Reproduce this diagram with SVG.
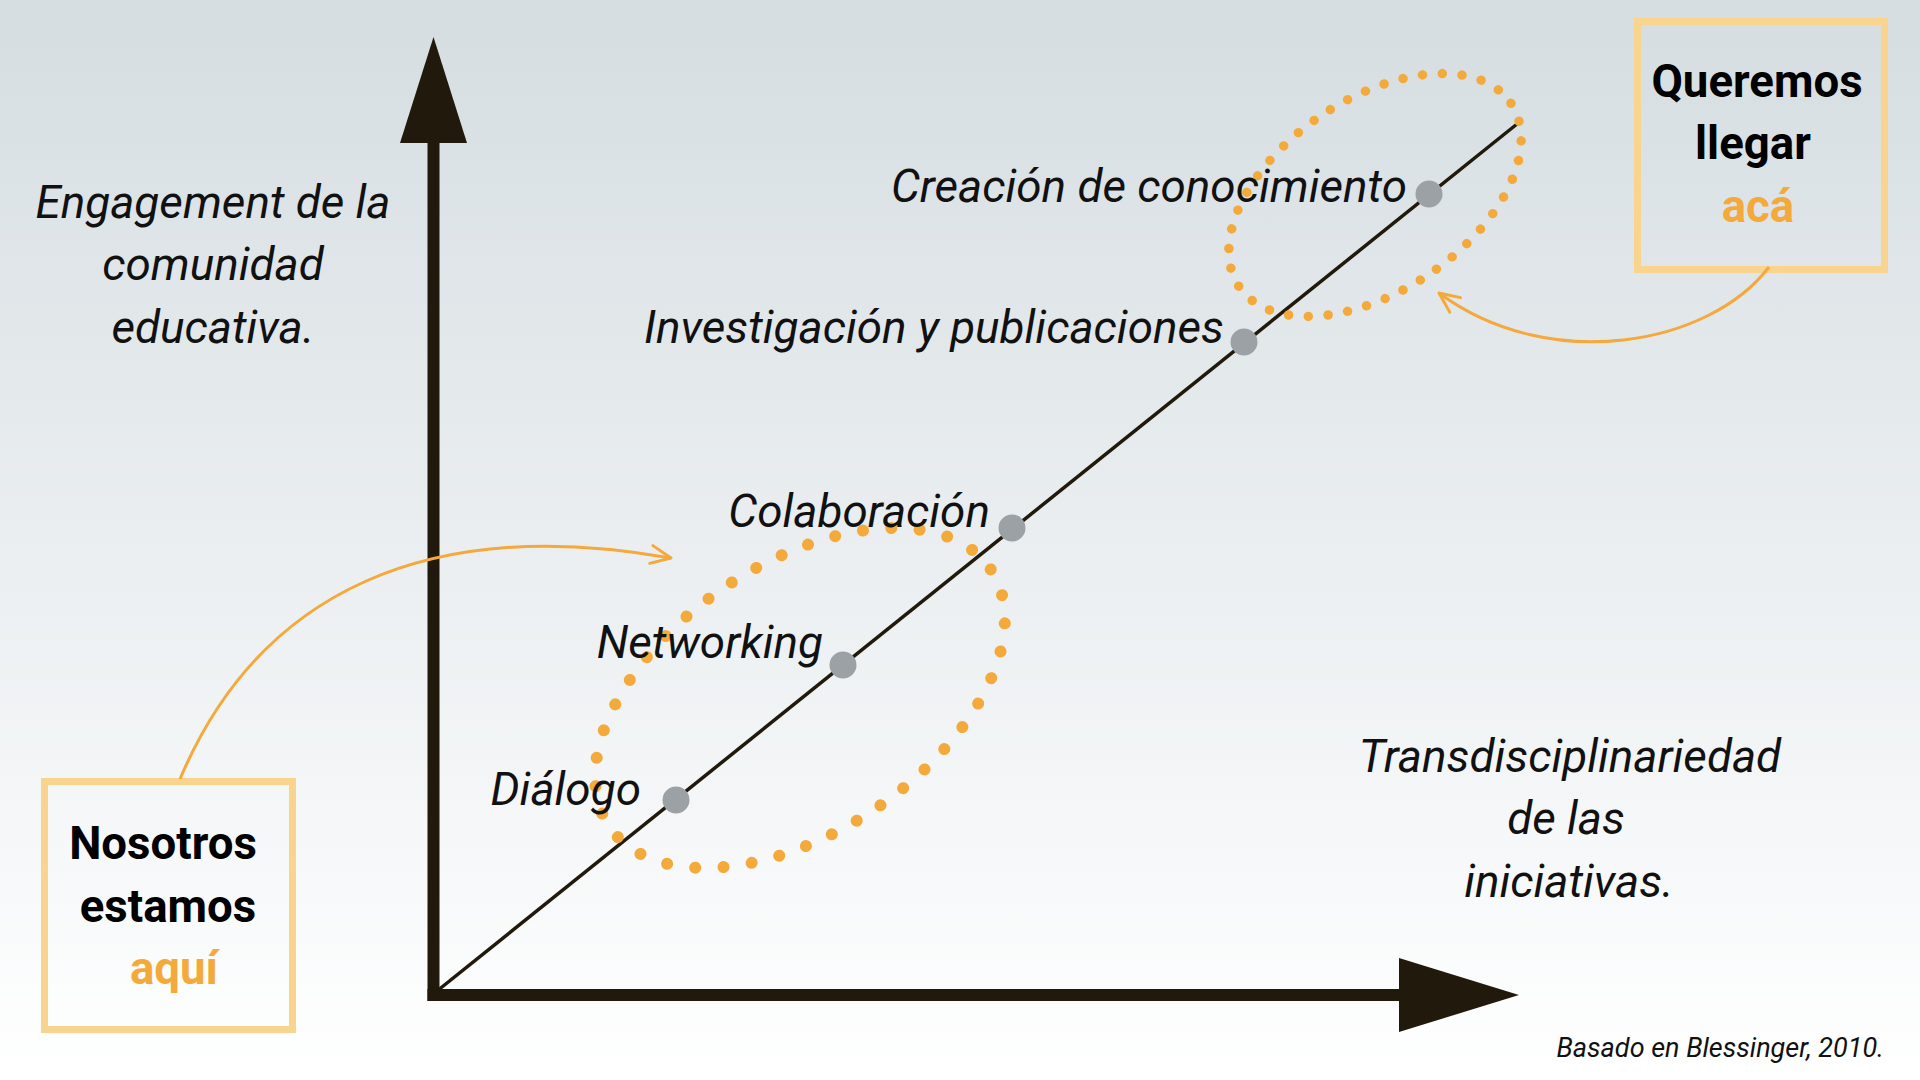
<svg xmlns="http://www.w3.org/2000/svg" width="1920" height="1080" viewBox="0 0 1920 1080">
<defs>
<linearGradient id="bg" x1="0" y1="0" x2="0" y2="1">
<stop offset="0" stop-color="#d5dde1"/>
<stop offset="1" stop-color="#ffffff"/>
</linearGradient>
<marker id="chev" viewBox="-22 -12 26 24" refX="0" refY="0" markerWidth="26" markerHeight="24" markerUnits="userSpaceOnUse" orient="auto">
<path d="M-20,-9 L0,0 L-20,9" fill="none" stroke="#f4a93a" stroke-width="3" stroke-linecap="round" stroke-linejoin="round"/>
</marker>
<style>
.axis{fill:#21190c}
.diag{stroke:#21190c;stroke-width:3.5;fill:none}
.dot{fill:#9ca1a6}
.lbl{font-family:Roboto,"Liberation Sans",sans-serif;font-style:italic;font-size:45.8px;fill:#111}
.ax{font-family:Roboto,"Liberation Sans",sans-serif;font-style:italic;font-size:45.8px;fill:#111;text-anchor:middle}
.box{fill:none;stroke:#f9d48e;stroke-width:7}
.bt{font-family:Roboto,"Liberation Sans",sans-serif;font-weight:bold;font-size:45.6px;fill:#000;text-anchor:middle}
.or{fill:#f4aa3b}
.dots{fill:none;stroke:#f4aa3b;stroke-linecap:round}
.conn{fill:none;stroke:#f4a93a;stroke-width:3}
.src{font-family:Roboto,"Liberation Sans",sans-serif;font-style:italic;font-size:27px;fill:#111}
</style>
</defs>
<rect width="1920" height="1080" fill="url(#bg)"/>

<g id="axes">
<rect class="axis" x="427.5" y="140" width="12" height="861"/>
<polygon class="axis" points="433.5,37 467,143 400,143"/>
<rect class="axis" x="427.5" y="989" width="974" height="12"/>
<polygon class="axis" points="1519,995 1399,958 1399,1032"/>
</g>

<g id="trend">
<line class="diag" x1="437" y1="991" x2="1517" y2="124"/>
</g>

<g id="ellipses">
<ellipse class="dots" cx="800" cy="698" rx="230" ry="134" transform="rotate(-34 800 698)" stroke-width="12" stroke-dasharray="0 28.4"/>
<ellipse class="dots" cx="1375" cy="195" rx="164" ry="96" transform="rotate(-34 1375 195)" stroke-width="9.5" stroke-dasharray="0 19.8"/>
</g>

<g id="node-dialogo">
<circle class="dot" cx="676" cy="800" r="13.5"/>
<text class="lbl" x="641" y="805" text-anchor="end">Diálogo</text>
</g>
<g id="node-networking">
<circle class="dot" cx="843" cy="665" r="13.5"/>
<text class="lbl" x="823" y="658" text-anchor="end">Networking</text>
</g>
<g id="node-colaboracion">
<circle class="dot" cx="1012" cy="528" r="13.5"/>
<text class="lbl" x="990" y="527" text-anchor="end">Colaboración</text>
</g>
<g id="node-investigacion">
<circle class="dot" cx="1244" cy="342" r="13.5"/>
<text class="lbl" x="1224" y="343" text-anchor="end">Investigación y publicaciones</text>
</g>
<g id="node-creacion">
<circle class="dot" cx="1429" cy="194" r="13.5"/>
<text class="lbl" x="1407" y="202" text-anchor="end">Creación de conocimiento</text>
</g>

<g id="label-y">
<text class="ax" x="213" y="218">Engagement de la</text>
<text class="ax" x="213" y="280">comunidad</text>
<text class="ax" x="213" y="343">educativa.</text>
</g>
<g id="label-x">
<text class="ax" x="1570" y="772">Transdisciplinariedad</text>
<text class="ax" x="1566" y="834">de las</text>
<text class="ax" x="1569" y="897">iniciativas.</text>
</g>

<g id="box-nosotros">
<rect class="box" x="44.5" y="781.5" width="248" height="248"/>
<text class="bt" x="163" y="859">Nosotros</text>
<text class="bt" x="168" y="922">estamos</text>
<text class="bt or" x="174" y="984">aquí</text>
</g>
<g id="box-queremos">
<rect class="box" x="1637.5" y="21.5" width="247" height="248"/>
<text class="bt" x="1757" y="97">Queremos</text>
<text class="bt" x="1753" y="159">llegar</text>
<text class="bt or" x="1758" y="222">acá</text>
</g>

<g id="connectors">
<path class="conn" d="M180,779 C260,590 430,515 671,558" marker-end="url(#chev)"/>
<path class="conn" d="M1769,267 C1710,345 1550,375 1439,293" marker-end="url(#chev)"/>
</g>

<text class="src" x="1884" y="1057" text-anchor="end">Basado en Blessinger, 2010.</text>
</svg>
